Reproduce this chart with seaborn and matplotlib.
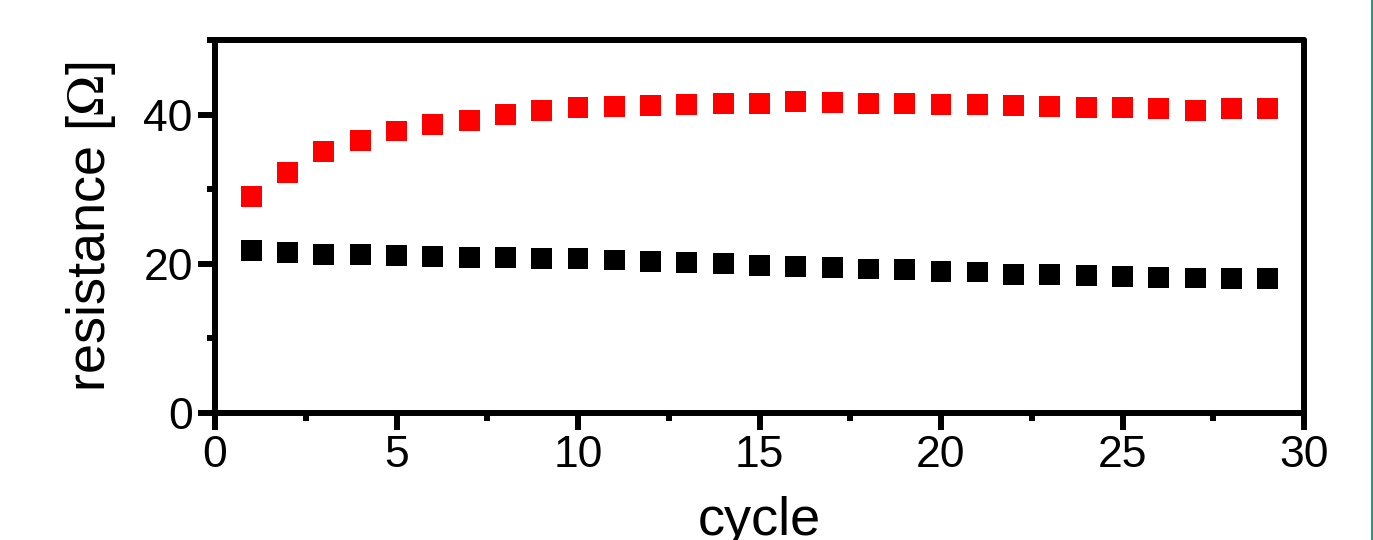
import matplotlib
matplotlib.use("Agg")
import matplotlib.pyplot as plt
from matplotlib.ticker import MultipleLocator
from matplotlib.lines import Line2D
import seaborn as sns
import pandas as pd

cycles = list(range(1, 30))
red_resistance = [29.0, 32.2, 35.0, 36.5, 37.8, 38.7, 39.2, 40.0, 40.5, 40.9,
                  41.1, 41.2, 41.4, 41.5, 41.5, 41.8, 41.6, 41.5, 41.5, 41.4,
                  41.4, 41.2, 41.1, 41.0, 40.9, 40.8, 40.6, 40.8, 40.8]
black_resistance = [21.8, 21.5, 21.3, 21.3, 21.1, 21.0, 20.9, 20.9, 20.7, 20.7,
                    20.5, 20.3, 20.2, 20.0, 19.8, 19.6, 19.5, 19.3, 19.2, 19.0,
                    18.9, 18.6, 18.6, 18.4, 18.3, 18.2, 18.1, 18.0, 18.0]
series_names = ["red", "black"]
series_colors = {"red": "#ff0000", "black": "#000000"}
x_ticks = [0, 5, 10, 15, 20, 25, 30]
y_ticks = [0, 20, 40]

df = pd.DataFrame({
    "cycle": cycles * 2,
    "resistance": red_resistance + black_resistance,
    "series": [series_names[0]] * len(cycles) + [series_names[1]] * len(cycles),
})

sns.set_theme(style="white")
plt.rcParams["font.family"] = ["Liberation Sans", "DejaVu Sans"]
plt.rcParams["mathtext.fontset"] = "stix"

fig = plt.figure(figsize=(13.73, 5.4), dpi=100)
ax = fig.add_axes([215 / 1373, 1 - 413 / 540, (1304 - 215) / 1373, (413 - 40) / 540])

sns.scatterplot(data=df, x="cycle", y="resistance", hue="series",
                palette=series_colors, marker="s", s=225, linewidth=0,
                legend=False, ax=ax, zorder=3)

ax.set_xlim(0, 30)
ax.set_ylim(0, 50)
ax.set_xticks(x_ticks)
ax.set_yticks(y_ticks)
ax.xaxis.set_minor_locator(MultipleLocator(2.5))
ax.yaxis.set_minor_locator(MultipleLocator(10))

lw = 4.3
for sp in ax.spines.values():
    sp.set_linewidth(lw)
    sp.set_color("black")
    sp.set_capstyle("round")

ax.tick_params(which="major", direction="out", length=12, width=lw,
               labelsize=32, pad=4, colors="black", bottom=True, left=True,
               top=False, right=False)
ax.tick_params(which="minor", direction="out", length=6, width=lw,
               colors="black", bottom=True, left=True, top=False, right=False)
for t in (ax.get_xticklines(minor=False) + ax.get_yticklines(minor=False)
          + ax.get_xticklines(minor=True) + ax.get_yticklines(minor=True)):
    t.set_solid_capstyle("round")

ax.set_xlabel("cycle", fontsize=39, labelpad=14, color="black")
ax.set_ylabel(r"resistance [$\Omega$]", fontsize=39, labelpad=18, color="black")
ax.grid(False)

fig.add_artist(Line2D([1372 / 1373, 1372 / 1373], [0, 1], transform=fig.transFigure,
                      color="#1aa37a", linewidth=1.5))

fig.savefig("out.png", dpi=100)
